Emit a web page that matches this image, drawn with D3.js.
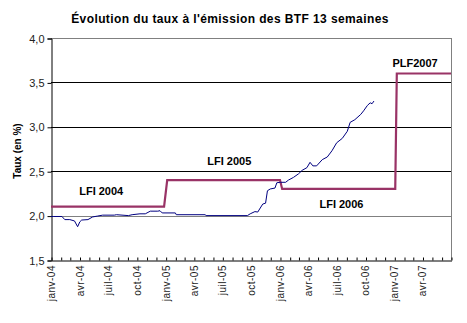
<!DOCTYPE html>
<html><head><meta charset="utf-8">
<script src="https://cdn.jsdelivr.net/npm/d3@7"></script>
<style>
body{margin:0;background:#fff;}
text{font-family:"Liberation Sans",Arial,sans-serif;}
</style></head>
<body>
<svg id="c" width="467" height="323"></svg>
<script>
const title = "Évolution du taux à l'émission des BTF 13 semaines";
const yTitle = "Taux (en %)";
const yTicks = [1.5, 2.0, 2.5, 3.0, 3.5, 4.0];
const yTickLabels = ["1,5","2,0","2,5","3,0","3,5","4,0"];
const xTickLabels = ["janv-04","avr-04","juil-04","oct-04","janv-05","avr-05","juil-05","oct-05","janv-06","avr-06","juil-06","oct-06","janv-07","avr-07"];

// BTF 13 semaines rate (blue)
const btfDates = ["2004-01-01","2004-01-10","2004-02-05","2004-02-14","2004-03-01","2004-03-16","2004-03-26","2004-04-02","2004-04-08","2004-04-28","2004-05-13","2004-05-29","2004-06-14","2004-07-21","2004-07-28","2004-09-04","2004-09-16","2004-10-11","2004-10-28","2004-11-13","2004-12-07","2004-12-14","2004-12-21","2005-02-01","2005-02-04","2005-05-07","2005-05-10","2005-09-19","2005-09-28","2005-10-13","2005-10-22","2005-11-07","2005-11-16","2005-11-22","2005-12-01","2005-12-16","2005-12-22","2006-01-02","2006-01-19","2006-01-28","2006-02-13","2006-03-01","2006-03-13","2006-03-28","2006-04-07","2006-04-16","2006-04-28","2006-05-16","2006-06-01","2006-06-16","2006-07-01","2006-07-19","2006-08-04","2006-08-13","2006-08-28","2006-09-16","2006-09-25","2006-10-07","2006-10-16","2006-10-22","2006-10-28"];
const btfValues = [1.99,1.99,1.99,1.955,1.955,1.94,1.875,1.93,1.95,1.955,1.985,1.995,2.005,2.005,2.01,2.0,2.01,2.02,2.02,2.05,2.05,2.055,2.03,2.03,2.01,2.01,2.0,2.0,2.02,2.045,2.04,2.13,2.14,2.28,2.30,2.31,2.37,2.375,2.375,2.40,2.43,2.47,2.51,2.54,2.60,2.56,2.56,2.63,2.66,2.73,2.82,2.87,2.95,3.05,3.08,3.14,3.18,3.24,3.27,3.26,3.29];

// Budget law hypothesis (step line)
const hypDates = ["2004-01-01","2004-12-27","2005-01-06","2006-01-01","2006-01-08","2007-01-04","2007-01-09","2007-07-01"];
const hypValues = [2.1,2.1,2.4,2.4,2.3,2.3,3.6,3.6];

const annotLabels = ["LFI 2004","LFI 2005","LFI 2006","PLF2007"];
const annotDates = ["2004-03-31","2005-05-14","2006-05-07","2006-12-26"];
const annotValues = [2.23,2.57,2.085,3.67];

const parse = d3.utcParse("%Y-%m-%d");
const svg = d3.select("#c");
const L = 51, R = 451, T = 38, B = 260;
const x = d3.scaleUtc().domain([parse("2004-01-01"), parse("2007-07-01")]).range([L, R]);
const y = d3.scaleLinear().domain([1.5, 4.0]).range([B, T]);

// gridlines
[2.0, 2.5, 3.0, 3.5, 4.0].forEach(v => {
  svg.append("line").attr("x1", L).attr("x2", R).attr("y1", Math.round(y(v))+0.5).attr("y2", Math.round(y(v))+0.5)
    .attr("stroke", (v === 2.0 || v === 4.0) ? "#808080" : "#000").attr("stroke-width", 1);
});
svg.append("line").attr("x1", R+0.5).attr("x2", R+0.5).attr("y1", T).attr("y2", B).attr("stroke", "#808080");

// y axis
const yAxis = d3.axisLeft(y).tickValues(yTicks).tickSize(4).tickPadding(3)
  .tickFormat((d, i) => yTickLabels[i]);
const gy = svg.append("g").attr("transform", `translate(${L+0.5},0.5)`).call(yAxis);
gy.select(".domain").attr("stroke", "#000");
gy.selectAll(".tick line").attr("stroke", "#000");
gy.selectAll("text").attr("font-size", 11).attr("fill", "#222");

// x axis with monthly ticks pointing up
const months = d3.utcMonth.range(parse("2004-01-01"), parse("2007-07-02"));
const gx = svg.append("g").attr("transform", `translate(0.5,${B+0.5})`)
  .call(d3.axisBottom(x).tickValues(months).tickSize(-3).tickSizeOuter(0).tickFormat(""));
gx.select(".domain").attr("stroke", "#000");
gx.selectAll(".tick line").attr("stroke", "#000");

const quarters = d3.utcMonth.every(3).range(parse("2004-01-01"), parse("2007-04-02"));
svg.append("g").selectAll("text").data(quarters).join("text")
  .attr("transform", (d) => `translate(${x(d)+4},${B+5}) rotate(-90)`)
  .attr("text-anchor", "end").attr("font-size", 10).attr("letter-spacing", 0.5).attr("fill", "#222")
  .text((d, i) => xTickLabels[i]);

// lines
const line = d3.line().x(d => x(d[0])).y(d => y(d[1]));
const hyp = hypDates.map((d, i) => [parse(d), hypValues[i]]);
svg.append("path").datum(hyp).attr("d", line).attr("fill", "none")
  .attr("stroke", "#993366").attr("stroke-width", 2.2);
const btf = btfDates.map((d, i) => [parse(d), btfValues[i]]);
svg.append("path").datum(btf).attr("d", line).attr("fill", "none")
  .attr("stroke", "#000080").attr("stroke-width", 1);

// annotations
svg.append("g").selectAll("text").data(annotLabels).join("text")
  .attr("x", (d, i) => x(parse(annotDates[i])))
  .attr("y", (d, i) => y(annotValues[i]))
  .attr("font-size", 11).attr("font-weight", "bold").attr("fill", "#000")
  .text(d => d);

// titles
svg.append("text").attr("x", 230).attr("y", 23).attr("text-anchor", "middle")
  .attr("font-size", 12).attr("letter-spacing", 0.4).attr("font-weight", "bold").text(title);
svg.append("text").attr("transform", "translate(21,151) rotate(-90)").attr("text-anchor", "middle")
  .attr("font-size", 10).attr("font-weight", "bold").text(yTitle);
</script>
</body></html>
